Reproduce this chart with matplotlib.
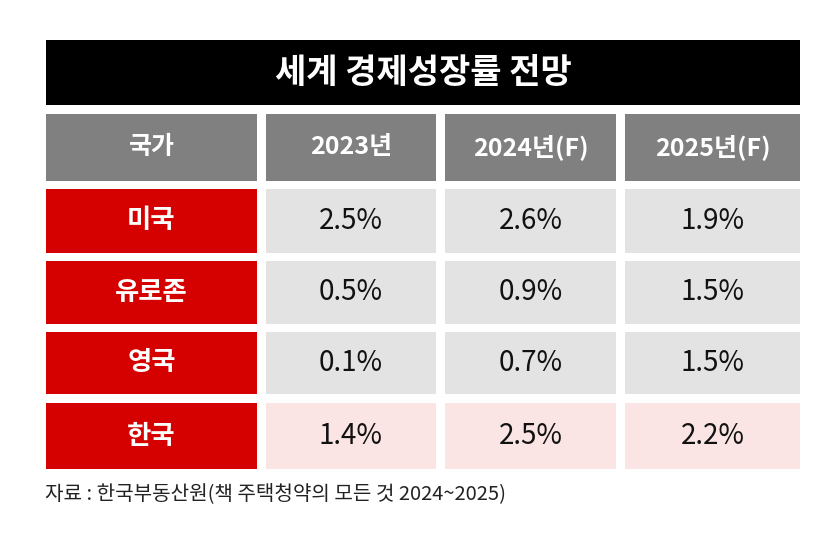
import matplotlib
matplotlib.use("Agg")
import matplotlib.pyplot as plt
from matplotlib.patches import Rectangle

plt.rcParams['font.family'] = ['Noto Sans CJK KR', 'DejaVu Sans']

title = "세계 경제성장률 전망"
header = ["국가", "2023년", "2024년(F)", "2025년(F)"]
countries = ["미국", "유로존", "영국", "한국"]
v2023 = [2.5, 0.5, 0.1, 1.4]
v2024 = [2.6, 0.9, 0.7, 2.5]
v2025 = [1.9, 1.5, 1.5, 2.2]
source = "자료 : 한국부동산원(책 주택청약의 모든 것 2024~2025)"

W, H = 837, 544
fig = plt.figure(figsize=(W / 100, H / 100), dpi=100)
ax = fig.add_axes([0, 0, 1, 1])
ax.set_xlim(0, W)
ax.set_ylim(H, 0)
ax.axis("off")
fig.patch.set_facecolor("white")

BLACK = "#000000"
GRAY = "#808080"
RED = "#d50000"
LIGHT = "#e3e3e3"
PINK = "#fbe4e4"

cols = [(46, 257), (266, 436), (445, 616), (625, 800)]
rows = [(114, 181), (189, 253), (261, 324), (332, 394), (403, 469)]


def cell(x0, x1, y0, y1, color):
    ax.add_patch(Rectangle((x0, y0), x1 - x0, y1 - y0, facecolor=color,
                           edgecolor="none"))


# title bar
cell(46, 800, 40, 105, BLACK)
ax.text((46 + 800) / 2, 73, title, color="white", fontsize=24.5,
        fontweight="heavy", ha="center", va="center")

# header
for (x0, x1), lab in zip(cols, header):
    y0, y1 = rows[0]
    cell(x0, x1, y0, y1, GRAY)
    ax.text((x0 + x1) / 2, (y0 + y1) / 2, lab, color="white", fontsize=18,
            fontweight="bold", ha="center", va="center")

values = list(zip(v2023, v2024, v2025))
for i, (name, vals) in enumerate(zip(countries, values)):
    y0, y1 = rows[i + 1]
    yc = (y0 + y1) / 2
    x0, x1 = cols[0]
    cell(x0, x1, y0, y1, RED)
    ax.text((x0 + x1) / 2, yc, name, color="white", fontsize=19,
            fontweight="bold", ha="center", va="center")
    bg = PINK if name == "한국" else LIGHT
    for (cx0, cx1), v in zip(cols[1:], vals):
        cell(cx0, cx1, y0, y1, bg)
        ax.text((cx0 + cx1) / 2, yc, f"{v:.1f}%", color="#111111",
                fontsize=20, ha="center", va="center")

ax.text(45, 494, source, color="#222222", fontsize=14.5, ha="left",
        va="center")

fig.savefig("out.png", dpi=100, facecolor="white")
